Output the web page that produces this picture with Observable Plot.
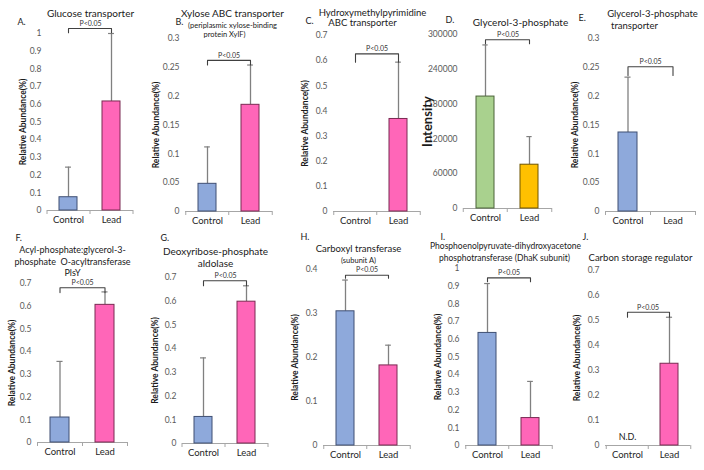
<!DOCTYPE html>
<html>
<head>
<meta charset="utf-8">
<script src="https://cdn.jsdelivr.net/npm/d3@7"></script>
<script src="https://cdn.jsdelivr.net/npm/@observablehq/plot@0.6"></script>
<style>
  html, body { margin: 0; padding: 0; background: #fff; }
  #chart { position: relative; width: 704px; height: 470px; background: #fff; font-family: Lato, "Open Sans", sans-serif; overflow: hidden; }
  #chart svg { position: absolute; background: transparent; overflow: visible; }
</style>
</head>
<body>
<div id="chart"></div>
<script>
// ---------- DATA ----------
const groups = ["Control", "Lead"];
const panelLetters = ["A.", "B.", "C.", "D.", "E.", "F.", "G.", "H.", "I.", "J."];
const titleLines = [
  ["Glucose transporter"],
  ["Xylose ABC transporter", "(periplasmic xylose-binding", "protein XylF)"],
  ["Hydroxymethylpyrimidine", "ABC transporter"],
  ["Glycerol-3-phosphate"],
  ["Glycerol-3-phosphate", "transporter"],
  ["Acyl-phosphate:glycerol-3-", "phosphate  O-acyltransferase", "PlsY"],
  ["Deoxyribose-phosphate", "aldolase"],
  ["Carboxyl transferase", "(subunit A)"],
  ["Phosphoenolpyruvate-dihydroxyacetone", "phosphotransferase (DhaK subunit)"],
  ["Carbon storage regulator"]
];
const yLabels = ["Relative Abundance(%)", "Relative Abundance(%)", "Relative Abundance(%)", "Intensity",
  "Relative Abundance(%)", "Relative Abundance(%)", "Relative Abundance(%)", "Relative Abundance(%)",
  "Relative Abundance(%)", "Relative Abundance(%)"];
const controlMean = [0.075, 0.048, null, 193000, 0.137, 0.11, 0.112, 0.305, 0.636, null];
const leadMean    = [0.616, 0.185, 0.368, 75500, null, 0.606, 0.598, 0.182, 0.155, 0.327];
const controlErr  = [0.245, 0.112, null, 282000, 0.233, 0.357, 0.361, 0.376, 0.915, null];
const leadErr     = [1.0, 0.254, 0.594, 124000, null, 0.663, 0.665, 0.228, 0.362, 0.513];
const yMax  = [1, 0.3, 0.7, 300000, 0.3, 0.7, 0.7, 0.4, 1, 0.7];
const yStep = [0.1, 0.05, 0.1, 60000, 0.05, 0.1, 0.1, 0.1, 0.1, 0.1];
const bracketTop  = [1.028, 0.262, 0.627, 291000, 0.251, 0.681, 0.686, 0.387, 0.947, 0.533];
const bracketFoot = [1.004, 0.254, 0.594, 284000, 0.236, 0.660, 0.665, 0.380, 0.925, 0.513];
const pLabel = "P<0.05";
const controlNote = [null, null, null, null, null, null, null, null, null, "N.D."];

// ---------- LAYOUT (pixels / styles) ----------
const layout = [
  {cx: 0,   cy: 0,   cw: 140, ch: 235, axL: 47,  axR: 133, yTop: 33,  y0: 210, yl: 24, letter: [17, 22],
   lines: [[90, 13, 10]]},
  {cx: 140, cy: 0,   cw: 140, ch: 235, axL: 185, axR: 272, yTop: 38,  y0: 211, yl: 29, letter: [175, 22],
   lines: [[232, 13, 10], [232, 25, 7.5], [224, 34, 7.5]]},
  {cx: 280, cy: 0,   cw: 140, ch: 235, axL: 333, axR: 420, yTop: 35,  y0: 211, yl: 28, letter: [305, 21],
   lines: [[372, 12, 9.5], [362, 22, 9.5]]},
  {cx: 420, cy: 0,   cw: 140, ch: 235, axL: 463, axR: 552, yTop: 34,  y0: 208, yl: 36, letter: [445, 20],
   lines: [[520, 22, 10]]},
  {cx: 560, cy: 0,   cw: 144, ch: 235, axL: 605, axR: 695, yTop: 38,  y0: 211, yl: 30, letter: [578, 18],
   lines: [[652, 13, 9.5], [634, 25, 9.5]]},
  {cx: 0,   cy: 235, cw: 140, ch: 235, axL: 37,  axR: 127, yTop: 283, y0: 442, yl: 25, letter: [15, 238],
   lines: [[72, 250, 9], [72, 262, 9], [72, 273, 9]]},
  {cx: 140, cy: 235, cw: 140, ch: 235, axL: 182, axR: 268, yTop: 277, y0: 443, yl: 27, letter: [160, 238],
   lines: [[215, 251, 10], [215, 263, 10]]},
  {cx: 280, cy: 235, cw: 140, ch: 235, axL: 323, axR: 410, yTop: 269, y0: 445, yl: 28, letter: [300, 237],
   lines: [[358, 248, 9.5], [358, 260, 7.5]]},
  {cx: 420, cy: 235, cw: 140, ch: 235, axL: 465, axR: 552, yTop: 268, y0: 445, yl: 27, letter: [440, 237],
   lines: [[505, 246, 8.5], [504, 258, 8.5]]},
  {cx: 560, cy: 235, cw: 144, ch: 235, axL: 605, axR: 690, yTop: 270, y0: 445, yl: 28, letter: [582, 237],
   lines: [[640, 257, 9.5]]}
];
const barFill = {Control: "#8EA9DB", Lead: "#FF66B8"};
const barStroke = {Control: "#3F4F73", Lead: "#7A2A52"};
const barFillD = {Control: "#A9D18E", Lead: "#FFC000"};
const barStrokeD = {Control: "#4B6238", Lead: "#6E5400"};
const axisColor = "#A6A6A6";
const errColor = "#808080";
const bracketColor = "#404040";
const padInner = 0.58;

const root = document.getElementById("chart");

layout.forEach((L, i) => {
  const ml = L.axL - L.cx, mr = L.cx + L.cw - L.axR;
  const mt = L.yTop - L.cy, mb = L.cy + L.ch - L.y0;
  const step = (L.axR - L.axL) / 2;
  const bw = step * (1 - padInner);
  const fills = i === 3 ? barFillD : barFill;
  const strokes = i === 3 ? barStrokeD : barStroke;

  const rows = [];
  if (controlMean[i] != null) rows.push({g: "Control", v: controlMean[i], e: controlErr[i]});
  if (leadMean[i] != null) rows.push({g: "Lead", v: leadMean[i], e: leadErr[i]});

  const ticks = d3.range(0, Math.round(yMax[i] / yStep[i]) + 1).map(k => k * yStep[i]);
  const bracket = [
    {g: "Control", y: bracketFoot[i]}, {g: "Control", y: bracketTop[i]},
    {g: "Lead", y: bracketTop[i]}, {g: "Lead", y: bracketFoot[i]}
  ];
  const ox = L.cx + ml, oy = L.cy + mt; // frame top-left in page coords

  const marks = [
    Plot.axisY(ticks, {tickSize: 0, tickPadding: 6, tickFormat: d3.format("~g"), fontSize: 8.5, fill: "#595959", label: null}),
    Plot.axisX({tickSize: 0, tickPadding: 6, fontSize: 9.5, fill: "#262626", label: null}),
    Plot.ruleY([0], {stroke: axisColor, strokeWidth: 1}),
    Plot.ruleX(groups, {x: d => d, y1: 0, y2: 0, dx: -step / 2, insetBottom: -4, stroke: axisColor}),
    Plot.ruleX(["Lead"], {x: d => d, y1: 0, y2: 0, dx: step / 2, insetBottom: -4, stroke: axisColor}),
    Plot.ruleX(rows, {x: "g", y1: "v", y2: "e", stroke: errColor, strokeWidth: 1.3}),
    Plot.tickY(rows, {x: "g", y: "e", stroke: errColor, strokeWidth: 1.2, insetLeft: (bw - 6) / 2, insetRight: (bw - 6) / 2}),
    ...rows.map(r => Plot.barY([r], {x: "g", y: "v", fill: fills[r.g], stroke: strokes[r.g], strokeWidth: 1})),
    Plot.line(bracket, {x: "g", y: "y", stroke: bracketColor, strokeWidth: 1.1}),
    Plot.text([pLabel], {y: () => bracketTop[i], frameAnchor: "middle", textAnchor: "middle", lineAnchor: "middle",
      dy: -5, fontSize: 7, fill: "#333"}),
    Plot.text([yLabels[i]], {frameAnchor: "left", textAnchor: "middle", lineAnchor: "middle", rotate: -90,
      dx: -L.yl, fontWeight: "bold", fontSize: i === 3 ? 13 : 8.5, fill: "#1a1a1a"}),
    Plot.text([panelLetters[i]], {frameAnchor: "top-left", dx: L.letter[0] - ox, dy: L.letter[1] - oy,
      textAnchor: "start", lineAnchor: "middle", fontSize: 9, fill: "#1a1a1a"}),
    ...titleLines[i].map((t, k) => Plot.text([t], {frameAnchor: "top-left",
      dx: L.lines[k][0] - ox, dy: L.lines[k][1] - oy, textAnchor: "middle", lineAnchor: "middle",
      fontSize: L.lines[k][2], fill: "#1a1a1a"}))
  ];
  if (controlNote[i]) {
    marks.push(Plot.text([controlNote[i]], {x: () => "Control", y: () => 0, dy: -8, fontSize: 9, fill: "#1a1a1a"}));
  }

  const svg = Plot.plot({
    width: L.cw,
    height: L.ch,
    marginLeft: ml,
    marginRight: mr,
    marginTop: mt,
    marginBottom: mb,
    style: {fontFamily: "Lato, 'Open Sans', sans-serif", background: "transparent", overflow: "visible"},
    x: {type: "band", domain: groups, paddingInner: padInner, paddingOuter: padInner / 2},
    y: {domain: [0, yMax[i]]},
    marks
  });
  svg.style.position = "absolute";
  svg.style.left = L.cx + "px";
  svg.style.top = L.cy + "px";
  root.appendChild(svg);
});
</script>
</body>
</html>
